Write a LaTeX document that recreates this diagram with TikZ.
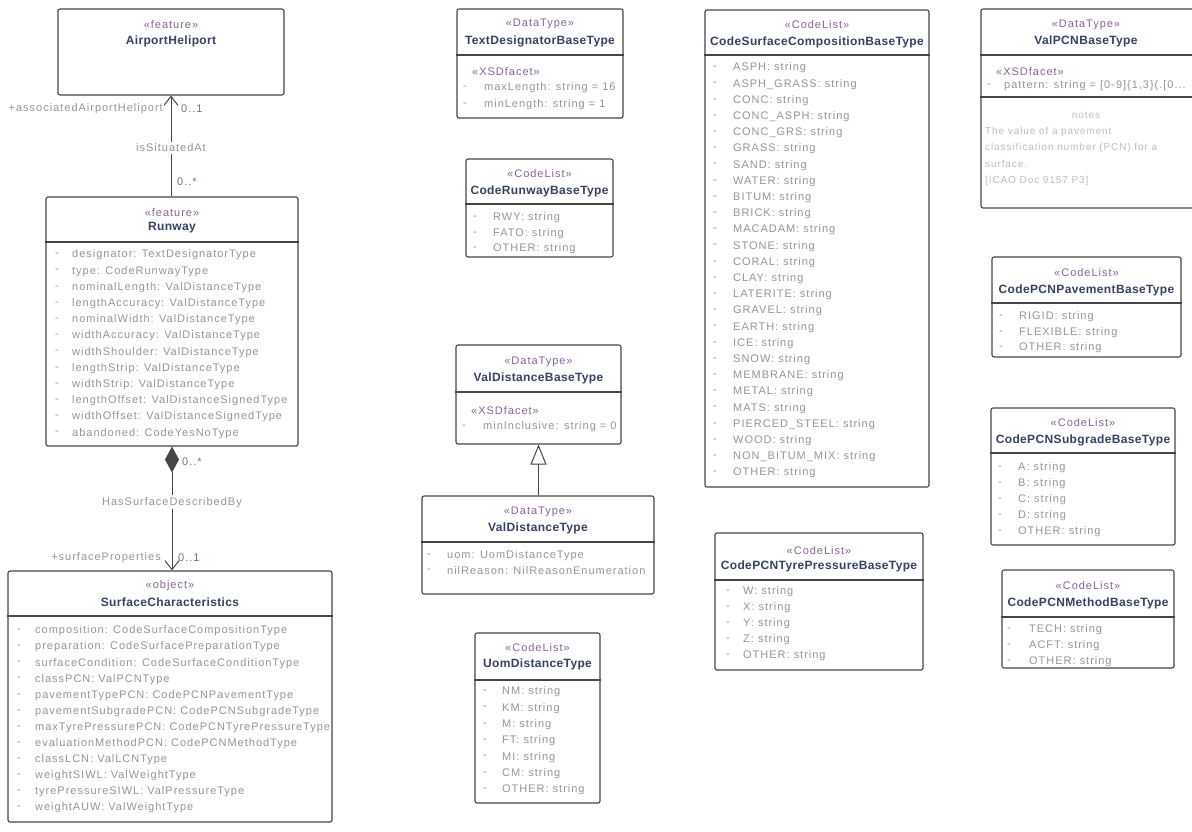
\documentclass[tikz,border=0pt]{standalone}
\usepackage{fontspec}
\setmainfont{Liberation Sans}
\newfontfamily\umlfont[LetterSpace=9]{Liberation Sans}
\newfontfamily\umlbold[LetterSpace=3]{Liberation Sans}
\usepackage{xcolor}
\usepackage{tikz}
\usetikzlibrary{arrows.meta, positioning}
\definecolor{colline}{RGB}{70,70,70}
\definecolor{colname}{RGB}{55,65,100}
\definecolor{colstereo}{RGB}{135,100,150}
\definecolor{colattr}{RGB}{150,150,150}
\definecolor{colnote}{RGB}{190,190,190}

\begin{document}
\begin{tikzpicture}[x=1pt, y=-1pt,
    umlbox/.style={draw=colline, line width=1.1pt, rounded corners=2pt, fill=white, inner sep=0pt},
    divider/.style={draw=colline, line width=1.1pt},
    stereo/.style={text=colstereo, font=\umlfont\fontsize{11}{13}\selectfont, inner sep=0pt},
    cname/.style={text=colname, font=\umlbold\bfseries\fontsize{12}{14}\selectfont, inner sep=0pt},
    attr/.style={anchor=west, text=colattr, font=\umlfont\fontsize{11}{13}\selectfont, inner sep=0pt},
    vis/.style={text=colattr, font=\umlfont\fontsize{11}{13}\selectfont, inner sep=0pt},
    notetext/.style={anchor=west, text=colnote, font=\umlfont\fontsize{10}{12}\selectfont, inner sep=0pt},
    link/.style={draw=colline, line width=1pt},
    role/.style={text=colattr, font=\umlfont\fontsize{11}{13}\selectfont, inner sep=1pt},
    mult/.style={text=colstereo, font=\umlfont\fontsize{11}{13}\selectfont, inner sep=1pt}]
    \useasboundingbox (0,0) rectangle (1192,831);
    \clip (0,0) rectangle (1192,831);

    % Left column: feature classes
    \node[umlbox, minimum width=226pt, minimum height=86pt] (airport) at (171,52) {};
    \node[stereo] (airportSt) at (171,25) {«feature»};
    \node[cname] (airportNm) at (171,41) {AirportHeliport};

    \node[umlbox, minimum width=252pt, minimum height=249pt] (runway) at (172,321.5) {};
    \node[stereo] (runwaySt) at (172,213) {«feature»};
    \node[cname] (runwayNm) at (172,228) {Runway};
    \draw[divider] (runway.west |- 0,242) -- (runway.east |- 0,242);
    \foreach \t [count=\i from 0] in {designator: TextDesignatorType, type: CodeRunwayType,
        nominalLength: ValDistanceType, lengthAccuracy: ValDistanceType,
        nominalWidth: ValDistanceType, widthAccuracy: ValDistanceType,
        widthShoulder: ValDistanceType, lengthStrip: ValDistanceType,
        widthStrip: ValDistanceType, lengthOffset: ValDistanceSignedType,
        widthOffset: ValDistanceSignedType, abandoned: CodeYesNoType} {
        \node[vis] (rwV\i) at (57,255+16.2*\i) {-};
        \node[attr] (rwA\i) at (72,255+16.2*\i) {\t};
    }

    \node[umlbox, minimum width=324pt, minimum height=251pt] (surface) at (170,696.5) {};
    \node[stereo] (surfaceSt) at (170,586) {«object»};
    \node[cname] (surfaceNm) at (170,602) {SurfaceCharacteristics};
    \draw[divider] (surface.west |- 0,616) -- (surface.east |- 0,616);
    \foreach \t [count=\i from 0] in {composition: CodeSurfaceCompositionType,
        preparation: CodeSurfacePreparationType, surfaceCondition: CodeSurfaceConditionType,
        classPCN: ValPCNType, pavementTypePCN: CodePCNPavementType,
        pavementSubgradePCN: CodePCNSubgradeType, maxTyrePressurePCN: CodePCNTyrePressureType,
        evaluationMethodPCN: CodePCNMethodType, classLCN: ValLCNType,
        weightSIWL: ValWeightType, tyrePressureSIWL: ValPressureType,
        weightAUW: ValWeightType} {
        \node[vis] (scV\i) at (19,631+16.1*\i) {-};
        \node[attr] (scA\i) at (35,631+16.1*\i) {\t};
    }

    % Associations
    \draw[link, -{Straight Barb[length=9pt, width=14pt]}] (airport.south |- runway.north) -- (airport.south)
        node[pos=0.48, fill=white, text=colattr, font=\umlfont\fontsize{11}{13}\selectfont, inner sep=2pt] (situated) {isSituatedAt};
    \node[role, anchor=east] (roleAH) at (164,109) {+associatedAirportHeliport};
    \node[mult, anchor=west] (multAH) at (180,109) {0..1};
    \node[mult, anchor=west] (multRW) at (176,182) {0..*};

    \draw[link, {Diamond[length=26pt, width=14pt]}-{Straight Barb[length=9pt, width=14pt]}] (runway.south) -- (runway.south |- surface.north)
        node[pos=0.45, fill=white, text=colattr, font=\umlfont\fontsize{11}{13}\selectfont, inner sep=2pt] (described) {HasSurfaceDescribedBy};
    \node[mult, anchor=west] (multSD) at (181,462) {0..*};
    \node[role, anchor=east] (roleSP) at (162,558) {+surfaceProperties};
    \node[mult, anchor=west] (multSP) at (177,558) {0..1};

    % Middle column: data types
    \node[umlbox, minimum width=166pt, minimum height=109pt] (textdes) at (540,63.5) {};
    \node[stereo] (textdesSt) at (540,24) {«DataType»};
    \node[cname] (textdesNm) at (540,41) {TextDesignatorBaseType};
    \draw[divider] (textdes.west |- 0,55) -- (textdes.east |- 0,55);
    \node[stereo, anchor=west] (textdesX) at (472,72) {«XSDfacet»};
    \node[vis] (tdV0) at (465,88) {-};
    \node[attr] (tdA0) at (484,88) {maxLength: string = 16};
    \node[vis] (tdV1) at (465,105) {-};
    \node[attr] (tdA1) at (484,105) {minLength: string = 1};

    \node[umlbox, minimum width=147pt, minimum height=98pt] (coderunway) at (539.5,208) {};
    \node[stereo] (coderunwaySt) at (539.5,174) {«CodeList»};
    \node[cname] (coderunwayNm) at (539.5,191) {CodeRunwayBaseType};
    \draw[divider] (coderunway.west |- 0,204) -- (coderunway.east |- 0,204);
    \foreach \t [count=\i from 0] in {RWY: string, FATO: string, OTHER: string} {
        \node[vis] (crV\i) at (475,218+15.5*\i) {-};
        \node[attr] (crA\i) at (493,218+15.5*\i) {\t};
    }

    \node[umlbox, minimum width=165pt, minimum height=99pt] (valdistbase) at (538.5,394.5) {};
    \node[stereo] (valdistbaseSt) at (538.5,362) {«DataType»};
    \node[cname] (valdistbaseNm) at (538.5,378) {ValDistanceBaseType};
    \draw[divider] (valdistbase.west |- 0,392) -- (valdistbase.east |- 0,392);
    \node[stereo, anchor=west] (valdistbaseX) at (471,411) {«XSDfacet»};
    \node[vis] (vbV0) at (464,427) {-};
    \node[attr] (vbA0) at (483,427) {minInclusive: string = 0};

    \node[umlbox, minimum width=232pt, minimum height=98pt] (valdist) at (538,545) {};
    \node[stereo] (valdistSt) at (538,512) {«DataType»};
    \node[cname] (valdistNm) at (538,528) {ValDistanceType};
    \draw[divider] (valdist.west |- 0,542) -- (valdist.east |- 0,542);
    \node[vis] (vdV0) at (429,556) {-};
    \node[attr] (vdA0) at (447,556) {uom: UomDistanceType};
    \node[vis] (vdV1) at (429,571) {-};
    \node[attr] (vdA1) at (447,571) {nilReason: NilReasonEnumeration};

    % Generalization
    \draw[link, -{Triangle[open, length=20pt, width=16pt]}] (valdistbase.south |- valdist.north) -- (valdistbase.south);

    \node[umlbox, minimum width=125pt, minimum height=170pt] (uom) at (537.5,718) {};
    \node[stereo] (uomSt) at (537.5,648) {«CodeList»};
    \node[cname] (uomNm) at (537.5,664) {UomDistanceType};
    \draw[divider] (uom.west |- 0,680) -- (uom.east |- 0,680);
    \foreach \t [count=\i from 0] in {NM: string, KM: string, M: string, FT: string,
        MI: string, CM: string, OTHER: string} {
        \node[vis] (uoV\i) at (485,692+16.3*\i) {-};
        \node[attr] (uoA\i) at (502,692+16.3*\i) {\t};
    }

    % Code lists
    \node[umlbox, minimum width=224pt, minimum height=477pt] (composition) at (817,248.5) {};
    \node[stereo] (compositionSt) at (817,25) {«CodeList»};
    \node[cname] (compositionNm) at (817,42) {CodeSurfaceCompositionBaseType};
    \draw[divider] (composition.west |- 0,55) -- (composition.east |- 0,55);
    \foreach \t [count=\i from 0] in {ASPH: string, ASPH\_GRASS: string, CONC: string,
        CONC\_ASPH: string, CONC\_GRS: string, GRASS: string, SAND: string,
        WATER: string, BITUM: string, BRICK: string, MACADAM: string, STONE: string,
        CORAL: string, CLAY: string, LATERITE: string, GRAVEL: string, EARTH: string,
        ICE: string, SNOW: string, MEMBRANE: string, METAL: string, MATS: string,
        PIERCED\_STEEL: string, WOOD: string, NON\_BITUM\_MIX: string, OTHER: string} {
        \node[vis] (coV\i) at (715,68+16.2*\i) {-};
        \node[attr] (coA\i) at (733,68+16.2*\i) {\t};
    }

    \node[umlbox, minimum width=208pt, minimum height=137pt] (tyre) at (819,601.5) {};
    \node[stereo] (tyreSt) at (819,551) {«CodeList»};
    \node[cname] (tyreNm) at (819,566) {CodePCNTyrePressureBaseType};
    \draw[divider] (tyre.west |- 0,580) -- (tyre.east |- 0,580);
    \foreach \t [count=\i from 0] in {W: string, X: string, Y: string, Z: string, OTHER: string} {
        \node[vis] (tyV\i) at (728,592+16*\i) {-};
        \node[attr] (tyA\i) at (743,592+16*\i) {\t};
    }

    % Right column: PCN types
    \node[umlbox, minimum width=214pt, minimum height=199pt] (valpcn) at (1088,108.5) {};
    \node[stereo] (valpcnSt) at (1086,25) {«DataType»};
    \node[cname] (valpcnNm) at (1086,41) {ValPCNBaseType};
    \draw[divider] (valpcn.west |- 0,55) -- (valpcn.east |- 0,55);
    \node[stereo, anchor=west] (valpcnX) at (996,72) {«XSDfacet»};
    \node[vis] (vpV0) at (989,86) {-};
    \node[attr] (vpA0) at (1004,86) {pattern: string = [0-9]\{1,3\}(.[0...};
    \draw[divider] (valpcn.west |- 0,97) -- (valpcn.east |- 0,97);
    \node[notetext, anchor=center] (valpcnN) at (1086,115) {notes};
    \node[notetext] (valpcnL1) at (985,132) {The value of a pavement};
    \node[notetext] (valpcnL2) at (985,148) {classification number (PCN) for a};
    \node[notetext] (valpcnL3) at (985,164) {surface.};
    \node[notetext] (valpcnL4) at (985,181) {[ICAO Doc 9157 P3]};

    \node[umlbox, minimum width=189pt, minimum height=100pt] (pavement) at (1086.5,307) {};
    \node[stereo] (pavementSt) at (1086.5,273) {«CodeList»};
    \node[cname] (pavementNm) at (1086.5,290) {CodePCNPavementBaseType};
    \draw[divider] (pavement.west |- 0,303) -- (pavement.east |- 0,303);
    \foreach \t [count=\i from 0] in {RIGID: string, FLEXIBLE: string, OTHER: string} {
        \node[vis] (pvV\i) at (1001,317+15.5*\i) {-};
        \node[attr] (pvA\i) at (1019,317+15.5*\i) {\t};
    }

    \node[umlbox, minimum width=184pt, minimum height=137pt] (subgrade) at (1083,476.5) {};
    \node[stereo] (subgradeSt) at (1083,423) {«CodeList»};
    \node[cname] (subgradeNm) at (1083,440) {CodePCNSubgradeBaseType};
    \draw[divider] (subgrade.west |- 0,453) -- (subgrade.east |- 0,453);
    \foreach \t [count=\i from 0] in {A: string, B: string, C: string, D: string, OTHER: string} {
        \node[vis] (sgV\i) at (1000,468+16*\i) {-};
        \node[attr] (sgA\i) at (1018,468+16*\i) {\t};
    }

    \node[umlbox, minimum width=172pt, minimum height=98pt] (method) at (1088,619) {};
    \node[stereo] (methodSt) at (1088,586) {«CodeList»};
    \node[cname] (methodNm) at (1088,603) {CodePCNMethodBaseType};
    \draw[divider] (method.west |- 0,617) -- (method.east |- 0,617);
    \foreach \t [count=\i from 0] in {TECH: string, ACFT: string, OTHER: string} {
        \node[vis] (mtV\i) at (1009,630+16*\i) {-};
        \node[attr] (mtA\i) at (1029,630+16*\i) {\t};
    }
\end{tikzpicture}
\end{document}
